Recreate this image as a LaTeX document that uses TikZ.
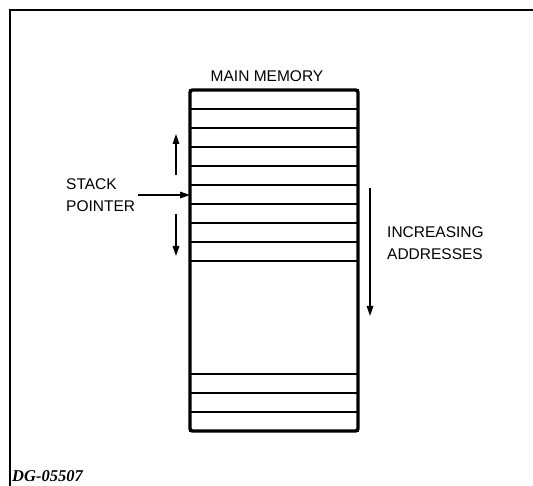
\documentclass[tikz,border=0pt]{standalone}
\usepackage{fontspec}
\setmainfont{Liberation Sans}
\newfontfamily\figfont{Liberation Serif}
\usetikzlibrary{positioning, arrows.meta, fit}

\begin{document}
\begin{tikzpicture}[
    x=1pt, y=-1pt,
    >={Triangle[length=10pt, width=6.5pt]},
    cell/.style={rectangle, draw, line width=1.9pt, minimum width=168pt, minimum height=19pt, inner sep=0pt, outer sep=0pt},
    membox/.style={rectangle, draw, line width=3.4pt, rounded corners=2.5pt, inner sep=0pt},
    caption/.style={font=\fontsize{15.5}{22}\selectfont, align=left, inner sep=3pt},
    pointer/.style={->, line width=1.5pt}
]
    \useasboundingbox (0,0) rectangle (533,486);

    % page frame
    \draw[line width=1.4pt] (10,486) -- (10,10) -- (533,10);

    % memory words
    \node[cell] at (274,99.5) (c1) {};
    \node[cell, below=0pt of c1] (c2) {};
    \node[cell, below=0pt of c2] (c3) {};
    \node[cell, below=0pt of c3] (c4) {};
    \node[cell, below=0pt of c4] (c5) {};
    \node[cell, below=0pt of c5] (c6) {};
    \node[cell, below=0pt of c6] (c7) {};
    \node[cell, below=0pt of c7] (c8) {};
    \node[cell, below=0pt of c8] (c9) {};
    \node[cell, minimum height=113pt, below=0pt of c9] (gap) {};
    \node[cell, below=0pt of gap] (b1) {};
    \node[cell, below=0pt of b1] (b2) {};
    \node[cell, below=0pt of b2] (b3) {};
    \node[membox, fit=(c1) (b3)] (memory) {};

    \node[caption] at (267,76) (title) {MAIN MEMORY};
    \node[caption, anchor=west] at (63,195) (stack) {STACK\\POINTER};
    \node[caption, anchor=west] at (384,243) (incr) {INCREASING\\ADDRESSES};

    \coordinate (uptail) at (176,175);
    \coordinate (uphead) at (176,134);
    \coordinate (downtail) at (176,214);
    \coordinate (downhead) at (176,256);
    \coordinate (addrtail) at (370,188);
    \coordinate (addrhead) at (370,316);

    \draw[pointer] (stack.east) -- (stack.east -| c6.west);
    \draw[pointer] (uptail) -- (uphead);
    \draw[pointer] (downtail) -- (downhead);
    \draw[pointer] (addrtail) -- (addrhead);

    \node[anchor=base west, inner sep=0pt, font=\figfont\bfseries\itshape\fontsize{16.5}{19}\selectfont] at (12,481) (figid) {DG-05507};
\end{tikzpicture}
\end{document}
